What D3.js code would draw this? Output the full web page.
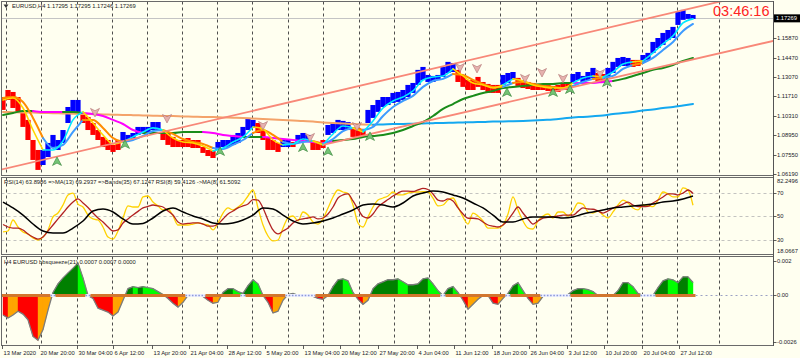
<!DOCTYPE html>
<html><head><meta charset="utf-8">
<script src="https://cdn.jsdelivr.net/npm/d3@7/dist/d3.min.js"></script>
<style>
html,body{margin:0;padding:0;background:#fffff0;}
svg{display:block;}
text{font-family:"Liberation Sans",Arial,sans-serif;}
</style></head>
<body><svg id="c" width="800" height="358"></svg>
<script>
// ---------- DATA (x = sample index, one sample ≈ 4-5 H4 bars) ----------
const trend = "dddddddd"+"uuuuuuuu"+"dddddddd"+"uuuuuuuu"+"ddddddddddd"+"uuuuuuuu"+"ddddd"+"uu"+"d"+"uuu"+"ddd"+"uuuuu"+"ddd"+
  "uuuuuuuuuuuuuuuuuu"+"ddddddddd"+"uuu"+"ddddddddddd"+"uuuuu"+"dd"+"uuuuu"+"dd"+"uuuuuuuuuuu";
const priceHigh = [
 1.1167,1.1217,1.1203,1.1167,1.1053,1.1004,1.0861,1.0790,1.0790,1.0840,
 1.0897,1.0861,1.0932,1.1096,1.1146,1.1146,1.1053,1.1025,1.0982,1.0932,
 1.0883,1.0861,1.0826,1.0861,1.0918,1.0897,1.0911,1.0954,1.0954,1.0954,
 1.0989,1.0989,1.0918,1.0911,1.0883,1.0861,1.0861,1.0875,1.0861,1.0861,
 1.0811,1.0790,1.0790,1.0847,1.0861,1.0861,1.0897,1.0911,1.0954,1.1018,
 1.1004,1.0982,1.0932,1.0883,1.0861,1.0840,1.0861,1.0861,1.0847,1.0897,
 1.0911,1.0897,1.0847,1.0847,1.0861,1.0968,1.0982,1.1004,1.0997,1.0989,
 1.0947,1.0947,1.0940,1.1075,1.1110,1.1146,1.1167,1.1167,1.1196,1.1203,
 1.1217,1.1253,1.1267,1.1360,1.1381,1.1324,1.1317,1.1324,1.1381,1.1417,
 1.1409,1.1360,1.1324,1.1288,1.1288,1.1310,1.1274,1.1260,1.1253,1.1253,
 1.1324,1.1338,1.1345,1.1303,1.1288,1.1274,1.1267,1.1260,1.1253,1.1253,
 1.1246,1.1253,1.1260,1.1260,1.1331,1.1345,1.1317,1.1345,1.1374,1.1338,
 1.1331,1.1374,1.1417,1.1445,1.1452,1.1445,1.1431,1.1431,1.1466,1.1481,
 1.1559,1.1587,1.1623,1.1644,1.1666,1.1773,1.1787,1.1758,1.1751];
const priceLow = [
 1.1075,1.1146,1.1089,1.1053,1.0954,1.0861,1.0719,1.0648,1.0683,1.0740,
 1.0811,1.0790,1.0840,1.0982,1.1061,1.1061,1.0982,1.0932,1.0897,1.0861,
 1.0811,1.0790,1.0776,1.0790,1.0847,1.0861,1.0861,1.0897,1.0911,1.0911,
 1.0932,1.0932,1.0861,1.0826,1.0811,1.0811,1.0811,1.0811,1.0804,1.0804,
 1.0769,1.0747,1.0733,1.0790,1.0811,1.0811,1.0826,1.0840,1.0883,1.0932,
 1.0947,1.0911,1.0861,1.0790,1.0790,1.0776,1.0811,1.0811,1.0811,1.0847,
 1.0861,1.0847,1.0790,1.0790,1.0804,1.0897,1.0911,1.0932,1.0932,1.0932,
 1.0883,1.0883,1.0883,1.0982,1.1018,1.1061,1.1096,1.1110,1.1125,1.1132,
 1.1146,1.1167,1.1196,1.1253,1.1288,1.1274,1.1274,1.1288,1.1310,1.1338,
 1.1345,1.1274,1.1239,1.1217,1.1217,1.1239,1.1217,1.1196,1.1196,1.1196,
 1.1253,1.1267,1.1288,1.1246,1.1231,1.1224,1.1217,1.1217,1.1217,1.1210,
 1.1203,1.1203,1.1217,1.1217,1.1274,1.1288,1.1274,1.1288,1.1303,1.1274,
 1.1274,1.1310,1.1338,1.1381,1.1388,1.1388,1.1381,1.1388,1.1417,1.1431,
 1.1481,1.1516,1.1538,1.1573,1.1587,1.1680,1.1716,1.1723,1.1723];
// moving averages, every 2nd sample
const fastMA = [
 1.1146,1.1160,1.1089,1.0932,1.0790,1.0790,1.0854,1.1004,1.1061,1.0982,
 1.0897,1.0833,1.0847,1.0883,1.0918,1.0947,1.0932,1.0875,1.0847,1.0840,
 1.0818,1.0783,1.0804,1.0847,1.0883,1.0954,1.0940,1.0861,1.0826,1.0833,
 1.0868,1.0854,1.0826,1.0904,1.0961,1.0947,1.0918,1.0997,1.1089,1.1139,
 1.1167,1.1210,1.1288,1.1310,1.1317,1.1367,1.1317,1.1267,1.1253,1.1231,
 1.1253,1.1296,1.1281,1.1253,1.1239,1.1231,1.1231,1.1267,1.1303,1.1317,
 1.1310,1.1345,1.1402,1.1417,1.1424,1.1481,1.1545,1.1602,1.1694,1.1723];
const slowMA = [
 1.1160,1.1167,1.1132,1.1018,1.0875,1.0804,1.0826,1.0918,1.1004,1.1004,
 1.0947,1.0875,1.0847,1.0861,1.0890,1.0925,1.0932,1.0904,1.0868,1.0847,
 1.0833,1.0804,1.0797,1.0826,1.0861,1.0911,1.0932,1.0897,1.0847,1.0833,
 1.0847,1.0854,1.0833,1.0868,1.0925,1.0947,1.0932,1.0954,1.1032,1.1096,
 1.1139,1.1175,1.1239,1.1281,1.1296,1.1331,1.1324,1.1288,1.1260,1.1239,
 1.1239,1.1267,1.1274,1.1260,1.1246,1.1239,1.1231,1.1246,1.1274,1.1296,
 1.1303,1.1317,1.1367,1.1395,1.1409,1.1445,1.1502,1.1559,1.1637,1.1687];
const longMA = [
 1.1039,1.1053,1.1068,1.1068,1.1061,1.1061,1.1061,1.1061,1.1053,1.1046,
 1.1032,1.1004,1.0975,1.0932,1.0911,1.0911,1.0911,1.0911,1.0918,1.0918,
 1.0918,1.0911,1.0897,1.0890,1.0883,1.0883,1.0883,1.0875,1.0868,1.0861,
 1.0854,1.0847,1.0840,1.0854,1.0861,1.0868,1.0883,1.0890,1.0897,1.0911,
 1.0932,1.0961,1.0989,1.1032,1.1082,1.1117,1.1153,1.1175,1.1196,1.1210,
 1.1231,1.1239,1.1246,1.1253,1.1260,1.1260,1.1267,1.1267,1.1267,1.1267,
 1.1274,1.1281,1.1296,1.1317,1.1338,1.1360,1.1374,1.1395,1.1424,1.1445];
const longMAState = "ggg"+"mmm"+"gg"+"mmmmmm"+"gggggg"+"mmmm"+"gg"+"mmmmmmm"+"gggggggggggggggggggggggg"+"mmmm"+"ggggggggg";
const baseMA = [
 1.1061,1.1059,1.1057,1.1056,1.1053,1.1052,1.1050,1.1048,1.1046,1.1045,
 1.1043,1.1041,1.1039,1.1038,1.1036,1.1034,1.1032,1.1031,1.1029,1.1027,
 1.1025,1.1024,1.1022,1.1020,1.1018,1.1014,1.1011,1.1007,1.1004,1.1000,
 1.0997,1.0992,1.0986,1.0982,1.0979,1.0975,1.0972,1.0970,1.0972,1.0974,
 1.0975,1.0977,1.0979,1.0981,1.0982,1.0984,1.0986,1.0988,1.0989,1.0992,
 1.0993,1.0995,1.0997,1.1000,1.1004,1.1007,1.1014,1.1022,1.1025,1.1030,
 1.1036,1.1046,1.1053,1.1061,1.1071,1.1078,1.1089,1.1096,1.1107,1.1118];
const baseMAState = "ooooooooooooooooooooooooooooooooooooo"+"bbbbbbbbbbbbbbbbbbbbbbbbbbbbbbbbb";
const channelUpper = [[-0.6,1.0648],[144.8,1.1858]];
const channelLower = [[64,1.0826],[154,1.1566]];
const buyArrows = [[10.8,1.0705],[24.4,1.0826],[43.4,1.0776],[60,1.0804],[65,1.0776],[73.4,1.0883],[100.8,1.1196],[110,1.1196],[113.4,1.1217],[120.8,1.1267]];
const sellArrows = [[18.4,1.1061],[32.8,1.1018],[52,1.0968],[61.4,1.0883],[70.8,1.0961],[91.4,1.1381],[94.8,1.1374],[104.4,1.1303],[107.8,1.1345],[112,1.1303],[119.4,1.1338]];
const lastPrice = 1.17269;
const priceTicks = [1.1587,1.1447,1.1307,1.1171,1.1031,1.0895,1.0755,1.0619];
// RSI pane
const rsiFast = [
 36.8,37.6,46.9,41.0,36.8,35.1,31.7,30.0,32.5,38.5,
 49.5,52.8,59.6,68.1,69.7,60.4,57.9,51.1,47.8,46.9,
 41.0,32.5,30.8,37.6,48.6,58.8,57.9,57.9,66.4,67.2,
 62.1,58.8,55.4,56.2,50.3,42.7,42.7,42.7,43.5,44.4,
 43.5,42.7,38.5,44.4,52.8,57.1,55.4,57.9,61.3,67.2,
 72.3,57.1,42.7,33.4,29.2,30.0,40.1,48.6,50.3,46.1,
 53.7,51.1,45.2,43.5,47.8,57.1,66.4,72.3,70.6,69.3,
 59.6,44.4,41.0,49.5,57.9,63.8,65.5,67.2,70.6,68.1,
 68.1,69.7,70.6,70.6,70.9,70.6,65.5,58.8,59.6,63.8,
 65.5,57.9,49.5,43.5,52.8,50.3,46.1,40.1,40.1,40.1,
 42.7,52.0,66.4,55.4,46.1,40.1,39.3,46.1,50.3,52.0,
 48.6,53.7,53.7,50.3,54.5,61.3,60.4,53.7,52.8,54.5,
 51.1,48.6,53.7,59.6,63.8,61.3,57.1,55.4,59.6,59.2,
 58.2,63.8,70.6,68.9,66.4,66.4,74.0,72.3,59.4];
const rsiSignal = [
 43.1,41.0,40.1,40.1,38.5,35.1,32.5,30.8,32.5,37.6,
 42.7,47.8,52.8,57.9,62.1,64.7,61.3,57.5,52.8,48.6,
 45.2,41.0,37.6,38.5,44.4,47.8,51.1,54.2,57.1,58.4,
 59.6,58.8,57.9,54.5,51.1,45.2,43.5,44.0,44.4,44.4,
 43.5,41.8,41.8,43.5,47.8,52.0,54.5,57.1,58.8,60.4,
 64.2,63.8,57.1,46.9,38.5,35.1,37.6,40.1,44.4,46.9,
 47.8,48.6,49.5,47.8,48.6,52.0,57.9,65.5,68.1,69.0,
 63.0,56.2,49.9,48.6,52.0,57.9,61.3,64.2,67.2,69.7,
 71.4,71.4,71.0,72.3,73.6,72.7,68.9,63.8,63.0,64.7,
 63.0,57.1,52.0,48.4,48.4,47.8,45.2,42.7,41.8,41.0,
 42.7,46.9,52.8,57.9,52.8,47.8,43.5,46.1,48.4,49.1,
 49.8,50.3,51.1,51.1,51.1,54.2,57.1,56.2,56.0,54.5,
 52.8,54.5,56.9,58.4,60.4,62.1,59.6,58.2,58.2,58.4,
 61.3,63.8,66.4,69.0,69.0,68.1,69.7,72.3,69.3];
const rsiBand = [
 62.1,57.1,51.1,43.5,37.6,35.9,35.9,40.1,46.1,54.5,
 56.2,53.7,47.8,43.5,44.0,48.6,54.5,57.1,53.7,50.3,
 47.8,44.4,43.5,44.4,46.9,51.1,57.1,56.2,51.1,46.1,
 43.5,44.4,46.1,48.6,52.0,55.4,59.6,60.4,59.6,57.9,
 61.3,67.2,69.7,71.4,70.6,68.1,65.5,61.3,57.1,51.1,
 45.2,45.2,47.8,49.5,49.5,49.5,48.6,49.5,52.0,53.7,
 55.4,57.1,57.9,58.8,59.6,60.4,62.1,63.0,64.7,67.2];
const rsiLevels = [70,50,30];
const rsiRange = [18.0667,82.2496];
// bbsqueeze pane
const squeezeHist = [
 -0.00106,-0.00122,-0.00106,-0.00085,-0.00101,-0.00132,-0.00222,-0.00243,-0.00185,-0.00079,
 0.00016,0.00063,0.00095,0.00122,0.00148,0.00175,0.00095,0,-0.00016,-0.00069,
 -0.00079,-0.00090,-0.00111,-0.00090,-0.00026,0.00037,0.00048,0.00042,0.00048,0.00042,
 0.00037,0.00021,0.00005,-0.00016,-0.00042,-0.00063,-0.00037,0,0,0,
 -0.00005,-0.00026,-0.00042,-0.00037,0.00016,0.00037,0.00037,0.00021,0.00011,0.00053,
 0.00085,0.00063,0,-0.00037,-0.00095,-0.00085,-0.00026,0.00005,0.00011,0,
 0,0,-0.00005,-0.00016,-0.00021,0,0.00048,0.00085,0.00090,0.00079,
 0.00016,-0.00021,-0.00048,-0.00026,0.00037,0.00063,0.00074,0.00085,0.00085,0.00090,
 0.00074,0.00058,0.00058,0.00063,0.00090,0.00095,0.00063,0.00026,0,0.00037,
 0.00048,0.00016,-0.00026,-0.00074,-0.00048,-0.00021,0,0,-0.00042,-0.00048,
 -0.00016,0.00011,0.00053,0.00069,0.00026,-0.00016,-0.00048,-0.00042,-0.00005,0,
 0,0,0.00005,0.00005,0.00026,0.00037,0.00037,0.00032,0.00021,0,
 0,0,0,0.00026,0.00069,0.00069,0.00048,0.00011,0,0,
 0,0.00042,0.00079,0.00090,0.00085,0.00069,0.00101,0.00101,0.0007];
const squeezeRanges = [[10,10],[17,17],[37,40],[48,48],[57,62],[88,88],[101,101],[108,113],[128,130]];
const histTicks = [0.002,0,-0.0026];
const histTickLabels = ["0.002","0.00","-0.0026"];
// time axis
const dateLabels = ["13 Mar 2020","20 Mar 20:00","30 Mar 04:00","6 Apr 12:00","13 Apr 20:00","21 Apr 04:00","28 Apr 12:00","5 May 20:00","13 May 04:00","20 May 12:00","27 May 20:00","4 Jun 04:00","11 Jun 12:00","18 Jun 20:00","26 Jun 04:00","3 Jul 12:00","10 Jul 20:00","20 Jul 04:00","27 Jul 12:00"];
const datePos = [-0.2,7.2,14.8,22,29.8,37.2,44.8,52.4,60,67.4,75,82.8,90.2,97.8,105.2,112.8,120.2,127.8,135.2];
const gridPos = [0.6,7.6,14.8,21.8,28.8,35.8,42.8,49.8,57,64,71.2,78.2,85.2,92.4,99.4,106.6,113.6,120.8,127.8,134.8,143.2];
const titleText = "EURUSD,H4  1.17295 1.17295 1.17246 1.17269";
const rsiLegend = "RSI(14) 63.8986   =>MA(13) 69.2937   =>Bands(35) 67.1247   RSI(8) 59.4126   ->MA(8) 61.5092";
const histLegend = "H4 EURUSD bbsqueeze(21) 0.0007 0.0007 0.0000";
const clockText = "03:46:16";

// ---------- DRAWING ----------
const svg = d3.select('#c');
const N = priceHigh.length;
const x = d3.scaleLinear().domain([0,154]).range([3,773]);
const yP = d3.scaleLinear().domain([1.0619,1.1587]).range([174,38]);
const yR = d3.scaleLinear().domain([30,70]).range([240,192.7]);
const yH = d3.scaleLinear().domain([-0.0026,0.002]).range([343.5,258.5]);
const L = 1.5, R = 773.5;
const panes = {main:[1.5,175.5], rsi:[177.5,254.5], hist:[256.5,345.5]};
const FS = 5.8;

svg.append('rect').attr('width',800).attr('height',358).attr('fill','#fffff0');
const defs = svg.append('defs');
Object.entries(panes).forEach(([k,[t,b]])=>{
  defs.append('clipPath').attr('id','clip-'+k).append('rect').attr('x',L).attr('y',t).attr('width',R-L).attr('height',b-t);
});
function pane(k){ return svg.append('g').attr('clip-path','url(#clip-'+k+')'); }

// grid
Object.entries(panes).forEach(([k,[t,b]])=>{
  const g = pane(k);
  gridPos.forEach(p=>{
    const xx = Math.round(x(p))+0.5;
    g.append('line').attr('x1',xx).attr('x2',xx).attr('y1',t).attr('y2',b)
      .attr('stroke','#3a3a3a').attr('stroke-width',0.9).attr('stroke-dasharray','3,3');
  });
});

function colorRuns(g, pts, colorOf, width, curve){
  const runs=[]; let cur=null;
  for(let k=0;k<pts.length-1;k++){
    const c = colorOf(k);
    if(!cur || cur.c!==c){ cur={c:c,p:[pts[k]]}; runs.push(cur); }
    cur.p.push(pts[k+1]);
  }
  const line = d3.line().x(d=>d[0]).y(d=>d[1]).curve(curve||d3.curveMonotoneX);
  runs.forEach(r=>g.append('path').attr('d',line(r.p)).attr('fill','none')
    .attr('stroke',r.c).attr('stroke-width',width).attr('stroke-linejoin','round').attr('stroke-linecap','round'));
}

// ----- main pane -----
const gm = pane('main');
const by = Math.round(yP(lastPrice))+0.5;
gm.append('line').attr('x1',L).attr('x2',R).attr('y1',by).attr('y2',by).attr('stroke','#c4c4c4').attr('stroke-width',1);

// price bars
gm.selectAll('rect.bar').data(d3.range(N)).enter().append('rect')
  .attr('x',i=>x(i)-2.6).attr('width',5.2)
  .attr('y',i=>yP(priceHigh[i])).attr('height',i=>Math.max(1.5,yP(priceLow[i])-yP(priceHigh[i])))
  .attr('fill',i=>trend[i]==='u'?'#0000ff':'#ff0000');

// base MA (sandy / deep sky blue)
colorRuns(gm, baseMA.map((v,k)=>[x(2*k),yP(v)]), k=>baseMAState[k]==='o'?'#f4a36a':'#14a8f0', 2);
// long MA (green / magenta)
colorRuns(gm, longMA.map((v,k)=>[x(2*k),yP(v)]), k=>longMAState[k]==='g'?'#1a8c1a':'#ff00ff', 2);
// slow MA
colorRuns(gm, slowMA.map((v,k)=>[x(2*k),yP(v)]), k=>trend[2*k+1]==='u'?'#3d9bff':'#ff8c00', 2);
// fast MA
colorRuns(gm, fastMA.map((v,k)=>[x(2*k),yP(v)]), k=>trend[2*k+1]==='u'?'#00e8ff':'#ffd700', 1.6);

// channel lines
function ray(pts){
  const [[a0,p0],[a1,p1]] = pts;
  const s = (p1-p0)/(a1-a0);
  const e = 156;
  return [[x(a0),yP(p0)],[x(e),yP(p0+s*(e-a0))]];
}
[channelUpper, channelLower].forEach(c=>{
  gm.append('path').attr('d',d3.line()(ray(c))).attr('stroke','#f88878').attr('stroke-width',1.8).attr('fill','none');
});

// arrows
const upArrow = "M0,-5 L4.5,3.5 L0,1.2 L-4.5,3.5 Z";
const downArrow = "M0,5 L4.5,-3.5 L0,-1.2 L-4.5,-3.5 Z";
gm.selectAll('path.buy').data(buyArrows).enter().append('path')
  .attr('d',upArrow).attr('transform',d=>`translate(${x(d[0])},${yP(d[1])})`)
  .attr('fill','#74c474').attr('stroke','#2f7d32').attr('stroke-width',0.6);
gm.selectAll('path.sell').data(sellArrows).enter().append('path')
  .attr('d',downArrow).attr('transform',d=>`translate(${x(d[0])},${yP(d[1])})`)
  .attr('fill','#e6b2ae').attr('stroke','#b07070').attr('stroke-width',0.6);

// title & clock
svg.append('path').attr('d','M3.5,4.5 L8.5,4.5 L6,8 Z').attr('fill','#333');
svg.append('text').attr('x',12).attr('y',8.2).attr('font-size',FS).attr('fill','#222').text(titleText);
svg.append('text').attr('x',713).attr('y',16).attr('font-size',14.5).attr('fill','#ff2424').text(clockText);

// ----- RSI pane -----
const gr = pane('rsi');
rsiLevels.forEach(v=>{
  const yy = Math.round(yR(v))+0.5;
  gr.append('line').attr('x1',L).attr('x2',R).attr('y1',yy).attr('y2',yy)
    .attr('stroke','#b4b4b4').attr('stroke-width',0.8).attr('stroke-dasharray','3,3');
});
const lineR = d3.line().curve(d3.curveMonotoneX);
gr.append('path').attr('d',lineR(rsiFast.map((v,i)=>[x(i),yR(v)]))).attr('fill','none').attr('stroke','#ffd200').attr('stroke-width',1.3);
gr.append('path').attr('d',lineR(rsiSignal.map((v,i)=>[x(i),yR(v)]))).attr('fill','none').attr('stroke','#b22222').attr('stroke-width',1.3);
gr.append('path').attr('d',lineR(rsiBand.map((v,k)=>[x(2*k),yR(v)]))).attr('fill','none').attr('stroke','#000').attr('stroke-width',1.5);
svg.append('text').attr('x',4).attr('y',183.5).attr('font-size',FS).attr('fill','#222').text(rsiLegend);

// ----- squeeze pane -----
const gh = pane('hist');
const y0 = yH(0);
function histColor(a,b,sign){ // sign of area part
  if(sign>0) return b>=a ? '#008000' : '#00ff00';
  return b<=a ? '#ff0000' : '#ffa500';
}
for(let i=0;i<N-1;i++){
  const a=squeezeHist[i], b=squeezeHist[i+1];
  if(a===0 && b===0) continue;
  const x1=x(i), x2=x(i+1);
  if(a*b<0){
    const t=a/(a-b), xc=x1+(x2-x1)*t;
    gh.append('path').attr('d',`M${x1},${y0}L${x1},${yH(a)}L${xc},${y0}Z`).attr('fill',histColor(a,b,Math.sign(a)));
    gh.append('path').attr('d',`M${xc},${y0}L${x2},${yH(b)}L${x2},${y0}Z`).attr('fill',histColor(a,b,Math.sign(b)));
  } else {
    const s = Math.sign(a+b);
    gh.append('path').attr('d',`M${x1},${y0}L${x1},${yH(a)}L${x2},${yH(b)}L${x2},${y0}Z`)
      .attr('fill',histColor(a,b,s)).attr('stroke',histColor(a,b,s)).attr('stroke-width',0.4);
  }
}
gh.append('path').attr('d',d3.line()(squeezeHist.map((v,i)=>[x(i),yH(v)]))).attr('fill','none').attr('stroke','#7c7c7c').attr('stroke-width',1.3);
// zero line
const sq = new Array(N).fill(false);
squeezeRanges.forEach(([a,b])=>{ for(let i=a;i<=b;i++) sq[i]=true; });
let runStart=0;
for(let i=1;i<=N;i++){
  if(i===N || sq[i]!==sq[runStart]){
    const xa=x(runStart)-2.5, xb=x(i-1)+2.5;
    if(sq[runStart]){
      gh.append('line').attr('x1',xa).attr('x2',xb).attr('y1',y0).attr('y2',y0).attr('stroke','#eef0ff').attr('stroke-width',3);
      gh.append('line').attr('x1',xa).attr('x2',xb).attr('y1',y0).attr('y2',y0).attr('stroke','#8d9ad8').attr('stroke-width',1.6).attr('stroke-dasharray','1.6,1.6');
    } else {
      gh.append('line').attr('x1',xa).attr('x2',xb).attr('y1',y0).attr('y2',y0).attr('stroke','#d2762e').attr('stroke-width',3);
    }
    runStart=i;
  }
}
gh.append('line').attr('x1',x(N-1)+2.5).attr('x2',R).attr('y1',Math.round(y0)+0.5).attr('y2',Math.round(y0)+0.5)
  .attr('stroke','#9aa0c4').attr('stroke-width',1).attr('stroke-dasharray','2,3');
svg.append('text').attr('x',4).attr('y',264).attr('font-size',FS).attr('fill','#222').text(histLegend);

// ----- frames & axes -----
Object.values(panes).forEach(([t,b])=>{
  svg.append('rect').attr('x',L).attr('y',t).attr('width',R-L).attr('height',b-t)
    .attr('fill','none').attr('stroke','#6a6a6a').attr('stroke-width',1);
});
svg.append('line').attr('x1',R).attr('x2',R).attr('y1',1).attr('y2',346).attr('stroke','#555').attr('stroke-width',1);

function axisLabel(yy, txt){
  svg.append('line').attr('x1',R).attr('x2',R+3).attr('y1',Math.round(yy)+0.5).attr('y2',Math.round(yy)+0.5).attr('stroke','#333').attr('stroke-width',0.8);
  svg.append('text').attr('x',777).attr('y',yy).attr('dy','0.35em').attr('font-size',FS).attr('fill','#1a1a2a').text(txt);
}
priceTicks.forEach(v=>axisLabel(yP(v), v.toFixed(5)));
// last price box
const ly = yP(lastPrice);
svg.append('rect').attr('x',774).attr('y',ly-4).attr('width',26).attr('height',8).attr('fill','#000');
svg.append('text').attr('x',776).attr('y',ly).attr('dy','0.35em').attr('font-size',FS).attr('fill','#fff').text(lastPrice.toFixed(5));
// RSI axis
svg.append('text').attr('x',777).attr('y',yR(rsiRange[1])+2.6).attr('dy','0.35em').attr('font-size',FS).attr('fill','#1a1a2a').text(rsiRange[1].toFixed(4));
rsiLevels.forEach(v=>axisLabel(yR(v), String(v)));
svg.append('text').attr('x',777).attr('y',yR(rsiRange[0])-3.5).attr('dy','0.35em').attr('font-size',FS).attr('fill','#1a1a2a').text(rsiRange[0].toFixed(4));
// squeeze axis
histTicks.forEach((v,i)=>{
  let yy = yH(v); if(i===0) yy+=2; if(i===2) yy-=2;
  axisLabel(yy, histTickLabels[i]);
});
// dates
dateLabels.forEach((d,i)=>{
  const xx = Math.round(x(datePos[i]))+0.5;
  svg.append('line').attr('x1',xx).attr('x2',xx).attr('y1',345.5).attr('y2',349).attr('stroke','#333').attr('stroke-width',0.8);
  svg.append('text').attr('x',xx+1).attr('y',354.5).attr('font-size',FS).attr('fill','#1a1a2a').text(d);
});
</script></body></html>
